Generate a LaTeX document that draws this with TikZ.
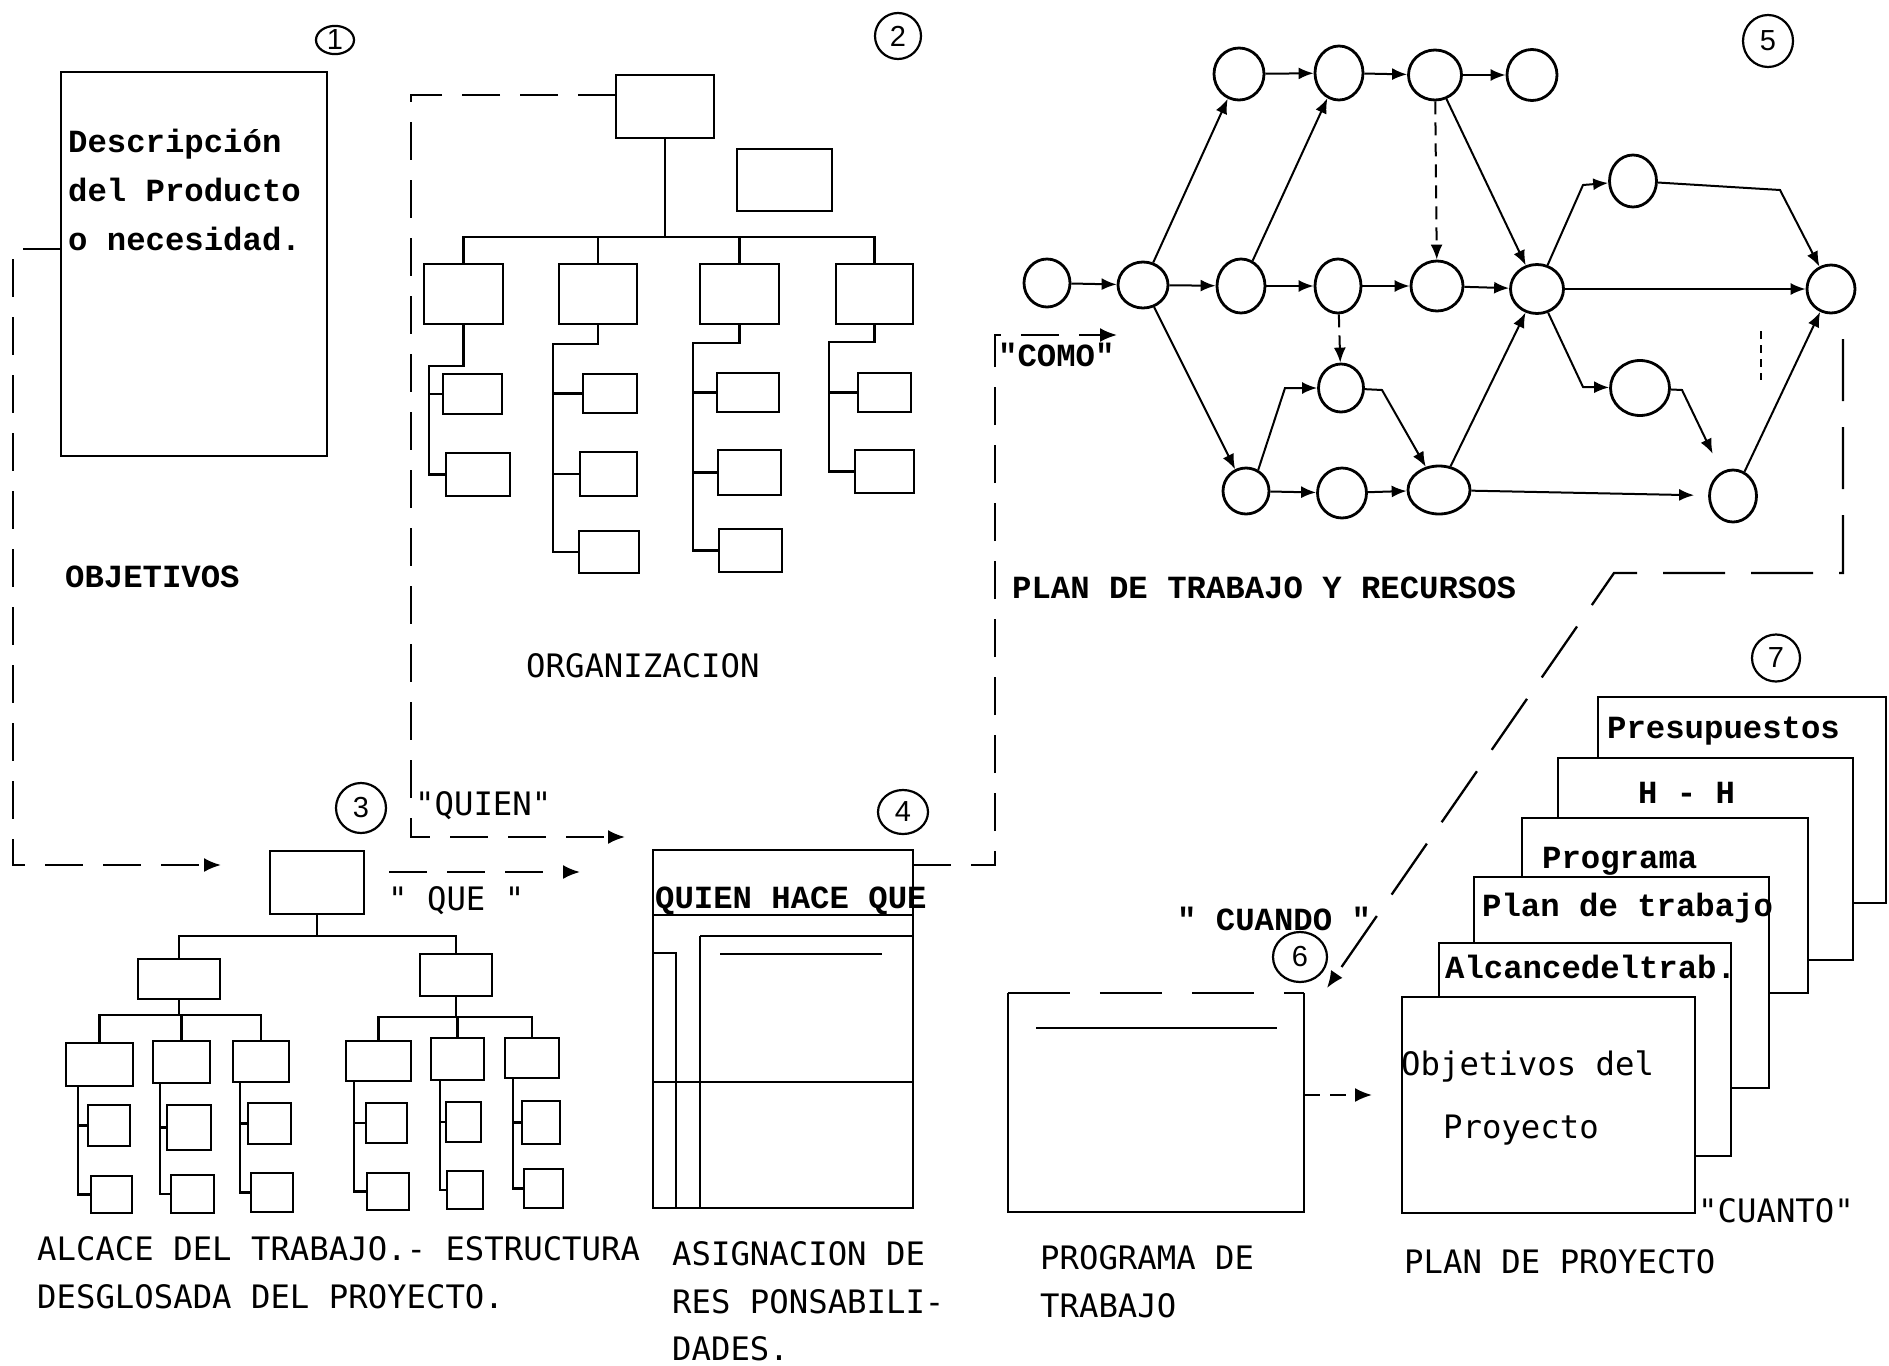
\documentclass[tikz,border=0pt]{standalone}
\usepackage{fontspec}
\usepackage{tikz}
\usetikzlibrary{arrows.meta,shapes.geometric}
\newfontfamily\typew{Liberation Mono}
\newfontfamily\typen{DejaVu Sans Mono}
\newfontfamily\numf{Liberation Sans}
\tikzset{
  ln/.style={line width=2.2pt},
  bx/.style={draw,line width=2.4pt,fill=white,inner sep=0pt,outer sep=0pt},
  nd/.style={draw,ellipse,line width=2.8pt,inner sep=0pt},
  num/.style={draw,ellipse,line width=2.2pt,inner sep=0pt,font=\numf\fontsize{29pt}{30pt}\selectfont},
  dsh/.style={line width=2.3pt,dash pattern=on 38pt off 20pt},
  dshl/.style={line width=2.3pt,dash pattern=on 62pt off 26pt},
  dshn/.style={dash pattern=on 13pt off 8pt},
  arr/.style={-{Latex[length=17pt,width=14pt]}},
  arn/.style={line width=2pt,-{Latex[length=15pt,width=12pt]}},
  txw/.style={inner sep=0pt,anchor=base west,font=\typew\bfseries\fontsize{32.3pt}{40pt}\selectfont},
  txn/.style={inner sep=0pt,anchor=base west,font=\typen\fontsize{32.3pt}{40pt}\selectfont},
}
\begin{document}
\begin{tikzpicture}[x=1pt,y=-1pt]
\fill[white] (0,0) rectangle (1889,1365);
\useasboundingbox (0,0) rectangle (1889,1365);

% numbered circles
\foreach \n/\x/\y/\w/\h in {1/335/40/38/28,2/898/36/46/46,3/361/808/50/50,4/903/812/50/44,5/1768/41/50/52,6/1300/957/54/50,7/1776/658/48/47}
  \node[num,minimum width=\w,minimum height=\h] (c\n) at (\x,\y) {\n};

% 1: objetivos
\node[bx,minimum width=266,minimum height=384] (desc) at (194,264) {};
\node[txw] (lab1a) at (68,152) {Descripción};
\node[txw] (lab1b) at (68,201) {del Producto};
\node[txw] (lab1c) at (68,250) {o necesidad.};
\node[txw] (lab1d) at (65,587) {OBJETIVOS};

% 2: organizacion
\foreach \n/\xa/\ya/\xb/\yb in {o0/616/75/714/138,ox/737/149/832/211,
  oA/424/264/503/324,oB/559/264/637/324,oC/700/264/779/324,oD/836/264/913/324,
  oA1/443/374/502/414,oA2/446/453/510/496,
  oB1/583/374/637/413,oB2/580/452/637/496,oB3/579/531/639/573,
  oC1/717/373/779/412,oC2/718/450/781/495,oC3/719/529/782/572,
  oD1/858/373/911/412,oD2/855/450/914/493}
  \node[bx,minimum width={\xb-\xa},minimum height={\yb-\ya}] (\n) at ({(\xa+\xb)/2},{(\ya+\yb)/2}) {};
\coordinate (obus) at (665,237);
\draw[ln] (o0.south) -- (obus);
\draw[ln] (oA.north) |- (obus) -| (oD.north);
\draw[ln] (oB.north) -- (oB.north |- obus);
\draw[ln] (oC.north) -- (oC.north |- obus);
\coordinate (sA) at (429,366);
\coordinate (sB) at (553,344);
\coordinate (sC) at (693,343);
\coordinate (sD) at (829,342);
\draw[ln] (oA.south) |- (sA) |- (oA2.west);
\draw[ln] (oB.south) |- (sB) |- (oB3.west);
\draw[ln] (oC.south) |- (sC) |- (oC3.west);
\draw[ln] (oD.south) |- (sD) |- (oD2.west);
\foreach \s/\b in {A/A1,B/B1,B/B2,C/C1,C/C2,D/D1}
  \draw[ln] (s\s |- o\b.west) -- (o\b.west);
\node[txn] (lab2) at (526,677) {ORGANIZACION};

% 3: estructura desglosada
\foreach \n/\xa/\ya/\xb/\yb in {w0/270/851/364/914,wL/138/959/220/999,wR/420/954/492/996,
  w1/66/1043/133/1086,w2/153/1041/210/1083,w3/233/1041/289/1082,
  w4/346/1041/411/1081,w5/431/1038/484/1080,w6/505/1038/559/1078,
  wa1/88/1105/130/1146,wb1/91/1176/132/1213,wa2/167/1105/211/1150,wb2/171/1175/214/1213,
  wa3/248/1103/291/1144,wb3/251/1173/293/1212,wa4/366/1103/407/1143,wb4/367/1173/409/1210,
  wa5/446/1102/481/1142,wb5/447/1171/483/1209,wa6/522/1101/560/1144,wb6/524/1169/563/1208}
  \node[bx,minimum width={\xb-\xa},minimum height={\yb-\ya}] (\n) at ({(\xa+\xb)/2},{(\ya+\yb)/2}) {};
\coordinate (wbus) at (317,936);
\draw[ln] (w0.south) -- (wbus);
\draw[ln] (wL.north) |- (wbus) -| (wR.north);
\coordinate (wbl) at (179,1015);
\draw[ln] (wL.south) -- (wbl);
\draw[ln] (w1.north) |- (wbl) -| (w3.north);
\draw[ln] (w2.north) -- (w2.north |- wbl);
\coordinate (wbr) at (456,1017);
\draw[ln] (wR.south) -- (wbr);
\draw[ln] (w4.north) |- (wbr) -| (w6.north);
\draw[ln] (w5.north) -- (w5.north |- wbr);
\foreach \k/\sx in {1/78,2/160,3/240,4/354,5/440,6/513} {
  \coordinate (sp\k) at (\sx,0);
  \draw[ln] (w\k.south -| sp\k) |- (wb\k.west);
  \draw[ln] (wa\k.west -| sp\k) -- (wa\k.west);
}
\node[txn] (lab3a) at (37,1260) {ALCACE DEL TRABAJO.- ESTRUCTURA};
\node[txn] (lab3b) at (37,1308) {DESGLOSADA DEL PROYECTO.};

% 4: responsabilidades
\node[bx,minimum width=260,minimum height=358] (m0) at (783,1029) {};
\draw[ln] (653,915) -- (913,915);
\draw[ln] (700,936) -- (913,936);
\draw[ln] (700,936) -- (700,1208);
\draw[ln] (653,953) -- (676,953) -- (676,1208);
\draw[ln] (653,1082) -- (913,1082);
\draw[ln] (720,954) -- (882,954);
\node[txw] (lab4) at (655,908) {QUIEN HACE QUE};
\node[txn] (lab4a) at (672,1265) {ASIGNACION DE};
\node[txn] (lab4b) at (672,1313) {RES PONSABILI-};
\node[txn] (lab4c) at (672,1360) {DADES.};

% 5: plan de trabajo y recursos
\foreach \n/\x/\y/\w/\h in {n0/1047/283/46/48,n1/1143/285/50/46,
  t1/1239/74/50/52,t2/1339/73/48/54,t3/1435/75/53/50,t4/1532/75/50/51,
  m1/1241/286/48/54,m2/1338/286/46/54,m3/1437/286/52/50,l1/1341/388/45/48,
  b1/1246/491/46/46,b2/1342/493/49/50,b3/1439/490/62/48,
  hub/1537/289/53/49,u1/1633/181/47/52,fin/1831/289/48/48,d1/1640/388/59/55,e1/1733/496/47/52}
  \node[nd,minimum width=\w,minimum height=\h] (\n) at (\x,\y) {};
\coordinate (k1) at (1285,388);
\coordinate (k2) at (1382,390);
\coordinate (k3) at (1583,185);
\coordinate (k4) at (1780,190);
\coordinate (k5) at (1583,387);
\coordinate (k6) at (1682,390);
\draw[arn] (n0) -- (n1);
\draw[arn] (n1) -- (t1);
\draw[arn] (n1) -- (m1);
\draw[arn] (n1) -- (b1);
\draw[arn] (t1) -- (t2);
\draw[arn] (m1) -- (t2);
\draw[arn] (t2) -- (t3);
\draw[arn] (t3) -- (t4);
\draw[arn,dshn] (t3) -- (m3);
\draw[arn] (m1) -- (m2);
\draw[arn] (m2) -- (m3);
\draw[arn,dshn] (m2) -- (l1);
\draw[arn] (b1.60) -- (k1) -- (l1);
\draw[arn] (l1) -- (k2) -- (b3);
\draw[arn] (b1) -- (b2);
\draw[arn] (b2) -- (b3);
\draw[arn] (b3) -- (hub);
\draw[arn] (t3) -- (hub);
\draw[arn] (m3) -- (hub);
\draw[arn] (hub) -- (k3) -- (u1);
\draw[arn] (u1) -- (k4) -- (fin);
\draw[arn] (hub) -- (fin);
\draw[arn] (hub) -- (k5) -- (d1);
\draw[arn,shorten >=20pt] (d1) -- (k6) -- (e1);
\draw[arn,shorten >=14pt] (b3) -- (e1);
\draw[arn] (e1) -- (fin);
\draw[line width=1.4pt,dash pattern=on 8pt off 6pt] (1761,331) -- (1761,380);
\node[txw] (lab5a) at (998,366) {"COMO"};
\node[txw] (lab5b) at (1012,598) {PLAN DE TRABAJO Y RECURSOS};

% 6: programa de trabajo
\node[inner sep=0pt,minimum width=296,minimum height=219] (p6) at (1156,1102.5) {};
\draw[ln] (p6.north west) -- (p6.south west) -- (p6.south east) -- (p6.north east);
\draw[ln,dash pattern=on 62pt off 30pt] (p6.north west) -- (p6.north east);
\draw[ln] (1036,1028) -- (1277,1028);
\node[txw] (lab6a) at (1177,930) {" CUANDO "};
\node[txn] (lab6b) at (1040,1269) {PROGRAMA DE};
\node[txn] (lab6c) at (1040,1317) {TRABAJO};

% 7: plan de proyecto
\foreach \n/\xa/\ya/\xb/\yb in {pg1/1598/697/1886/903,pg2/1558/758/1853/960,pg3/1522/818/1808/993,
  pg4/1474/877/1769/1088,pg5/1439/943/1731/1156,pg6/1402/997/1695/1213}
  \node[bx,minimum width={\xb-\xa},minimum height={\yb-\ya}] (\n) at ({(\xa+\xb)/2},{(\ya+\yb)/2}) {};
\node[txw] (lab7a) at (1607,738) {Presupuestos};
\node[txw] (lab7b) at (1638,803) {H - H};
\node[txw] (lab7c) at (1542,868) {Programa};
\node[txw] (lab7d) at (1482,916) {Plan de trabajo};
\node[txw] (lab7e) at (1445,978) {Alcancedeltrab.};
\node[txn] (lab7f) at (1401,1075) {Objetivos del};
\node[txn] (lab7g) at (1443,1138) {Proyecto};
\node[txn] (lab7h) at (1698,1222) {"CUANTO"};
\node[txn] (lab7i) at (1404,1273) {PLAN DE PROYECTO};

% dashed links between the parts
\coordinate (oa1) at (13,249);
\coordinate (oa2) at (13,865);
\coordinate (oa3) at (221,865);
\draw[dsh,arr] (oa1 -| desc.west) -- (oa1) -- (oa2) -- (oa3);
\coordinate (qa1) at (411,95);
\coordinate (qa2) at (411,837);
\coordinate (qa3) at (625,837);
\draw[dsh,arr] (qa1 -| o0.west) -- (qa1) -- (qa2) -- (qa3);
\node[txn] (lab2q) at (415,815) {"QUIEN"};
\coordinate (qe1) at (389,872);
\coordinate (qe2) at (580,872);
\draw[dsh,arr] (qe1) -- (qe2);
\node[txn] (lab3q) at (388,910) {" QUE "};
\coordinate (ca1) at (995,865);
\coordinate (ca2) at (995,335);
\coordinate (ca3) at (1117,335);
\draw[dsh,arr] (ca1 -| m0.east) -- (ca1) -- (ca2) -- (ca3);
\coordinate (cu1) at (1843,339);
\coordinate (cu2) at (1843,573);
\coordinate (cu3) at (1614,573);
\coordinate (cu4) at (1327,988);
\draw[dshl,arr] (cu1) -- (cu2) -- (cu3) -- (cu4);
\coordinate (pp) at (1372,1095);
\draw[ln,dash pattern=on 16pt off 10pt,arr] (pp -| p6.east) -- (pp);
\end{tikzpicture}
\end{document}
